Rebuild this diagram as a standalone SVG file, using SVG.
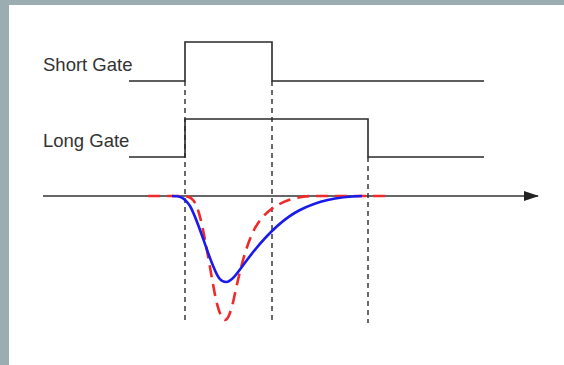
<svg xmlns="http://www.w3.org/2000/svg" width="564" height="365" viewBox="0 0 564 365">
<style>
.lbl{font-family:"Liberation Sans",Arial,sans-serif;font-size:18.5px;fill:#333}
.gate{fill:none;stroke:#2a2a2a;stroke-width:1.6}
.guide{fill:none;stroke:#444;stroke-width:1.6;stroke-dasharray:5 4}
.axis{fill:none;stroke:#333;stroke-width:1.6}
.short{fill:none;stroke:#ee2a2a;stroke-width:2.6;stroke-dasharray:12 7}
.long{fill:none;stroke:#1a1aee;stroke-width:2.6}
</style>
<defs>
<marker id="arr" markerWidth="15" markerHeight="10" refX="14" refY="5" orient="auto" markerUnits="userSpaceOnUse">
<path d="M0,0 L15,5 L0,10 Z" fill="#222"/>
</marker>
</defs>
<rect x="0" y="0" width="564" height="365" fill="#9cadb2"/>
<rect x="9" y="5" width="555" height="360" fill="#ffffff"/>
<g id="guides">
<line class="guide" x1="185" y1="81" x2="185" y2="323"/>
<line class="guide" x1="272" y1="81" x2="272" y2="323"/>
<line class="guide" x1="368" y1="157" x2="368" y2="323"/>
</g>
<g id="short-gate">
<text class="lbl" x="43" y="71">Short Gate</text>
<polyline class="gate" points="129,81 185,81 185,42 272,42 272,81 484,81"/>
</g>
<g id="long-gate">
<text class="lbl" x="43" y="147">Long Gate</text>
<polyline class="gate" points="129,157 185,157 185,119 368,119 368,157 484,157"/>
</g>
<g id="connectors">
<line class="axis" x1="43" y1="196" x2="538" y2="196" marker-end="url(#arr)"/>
</g>
<g id="pulse-fast">
<path class="short" d="M 148 196 L 183 196 C 190 196, 194 198, 198 210 C 204 228, 210 270, 216 300 C 219 312, 222 320, 225 320 C 228 320, 231 312, 234 298 C 240 270, 246 245, 255 228 C 264 212, 278 202, 296 198 C 305 196, 310 196, 320 196 L 386 196"/>
</g>
<g id="pulse-slow">
<path class="long" d="M 172 196 C 180 196, 184 197, 190 206 C 198 220, 206 250, 214 268 C 218 278, 221 282, 226 282 C 232 282, 238 272, 247 260 C 262 240, 280 220, 300 210 C 318 201, 335 197, 362 196"/>
</g>
</svg>
